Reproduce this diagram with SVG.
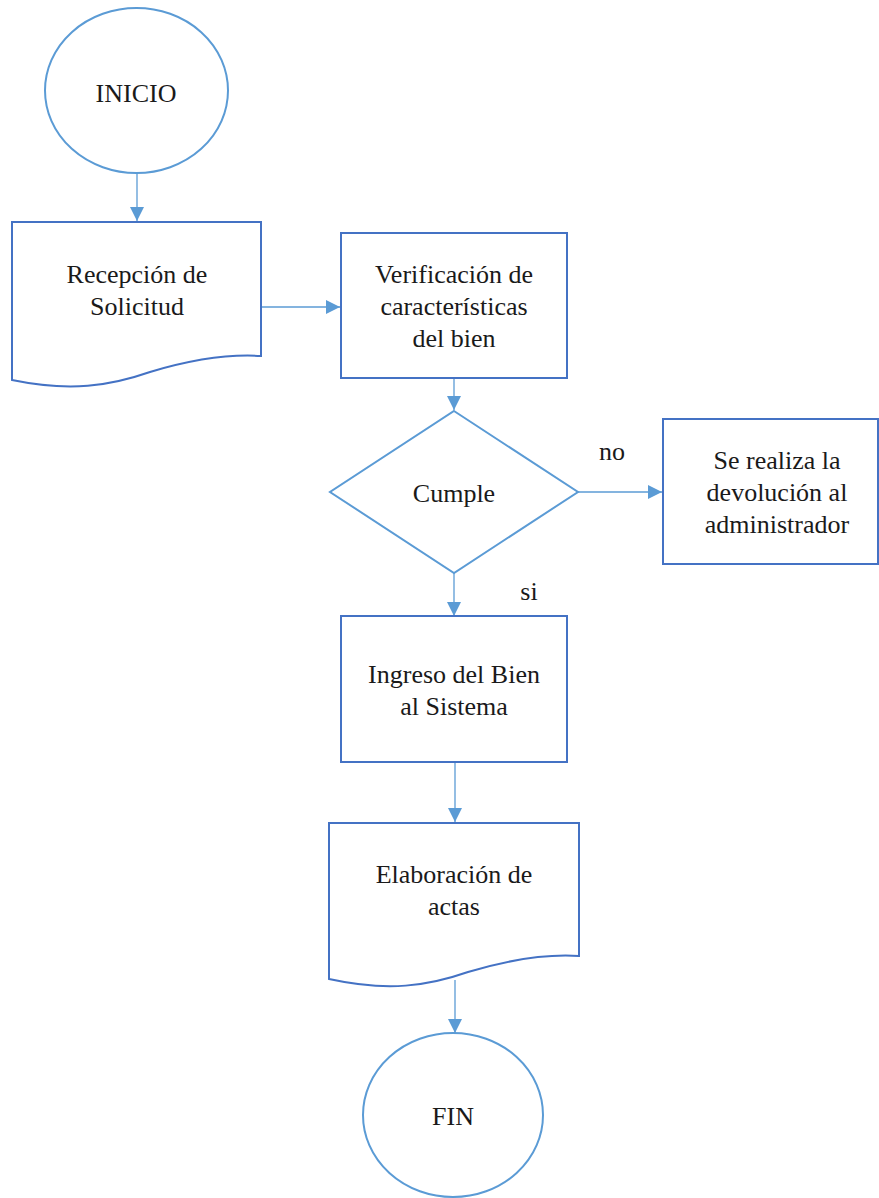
<svg xmlns="http://www.w3.org/2000/svg" width="879" height="1198" viewBox="0 0 879 1198">
<style>
.term{fill:#fff;stroke:#5B9BD5;stroke-width:2}
.box{fill:#fff;stroke:#4472C4;stroke-width:2}
.dec{fill:#fff;stroke:#5B9BD5;stroke-width:2}
.conn{fill:none;stroke:#5B9BD5;stroke-width:1.3}
.t{font-family:'Liberation Serif','Times New Roman',serif;font-size:26px;fill:#1a1a1a;text-anchor:middle}
</style>
<defs>
<marker id="ah" viewBox="0 0 10 10" refX="10" refY="5" markerWidth="14" markerHeight="14" markerUnits="userSpaceOnUse" orient="auto">
<path d="M0,0 L10,5 L0,10 Z" fill="#5B9BD5"/>
</marker>
</defs>
<rect width="879" height="1198" fill="#fff"/>
<g id="connectors">
<line class="conn" x1="137" y1="173" x2="137" y2="221" marker-end="url(#ah)"/>
<line class="conn" x1="261" y1="307" x2="340" y2="307" marker-end="url(#ah)"/>
<line class="conn" x1="454" y1="378" x2="454" y2="410" marker-end="url(#ah)"/>
<line class="conn" x1="578" y1="492" x2="662" y2="492" marker-end="url(#ah)"/>
<line class="conn" x1="454" y1="573" x2="454" y2="616" marker-end="url(#ah)"/>
<line class="conn" x1="455" y1="762" x2="455" y2="822" marker-end="url(#ah)"/>
<line class="conn" x1="455" y1="980" x2="455" y2="1033" marker-end="url(#ah)"/>
<text class="t" x="612" y="460">no</text>
<text class="t" x="529" y="600">si</text>
</g>
<g id="inicio">
<ellipse class="term" cx="136.5" cy="90.5" rx="91.5" ry="82.5"/>
<text class="t" x="136" y="102">INICIO</text>
</g>
<g id="recepcion">
<path class="box" d="M12,222 H261 V356 C230,354 190,360 150,372 C110,386 70,392 12,380 Z"/>
<text class="t" x="137" y="283">Recepción de</text>
<text class="t" x="137" y="315">Solicitud</text>
</g>
<g id="verificacion">
<rect class="box" x="341" y="233" width="226" height="145"/>
<text class="t" x="454" y="283">Verificación de</text>
<text class="t" x="454" y="315">características</text>
<text class="t" x="454" y="347">del bien</text>
</g>
<g id="cumple">
<polygon class="dec" points="454,411 578,492 454,573 330,492"/>
<text class="t" x="454" y="502">Cumple</text>
</g>
<g id="devolucion">
<rect class="box" x="663" y="419" width="215" height="145"/>
<text class="t" x="777" y="469">Se realiza la</text>
<text class="t" x="777" y="501">devolución al</text>
<text class="t" x="777" y="533">administrador</text>
</g>
<g id="ingreso">
<rect class="box" x="341" y="616" width="226" height="146"/>
<text class="t" x="454" y="683">Ingreso del Bien</text>
<text class="t" x="454" y="715">al Sistema</text>
</g>
<g id="elaboracion">
<path class="box" d="M329,823 H579 V956 C548,954 508,960 468,972 C428,986 388,992 329,979 Z"/>
<text class="t" x="454" y="883">Elaboración de</text>
<text class="t" x="454" y="915">actas</text>
</g>
<g id="fin">
<ellipse class="term" cx="453" cy="1125" rx="90" ry="82" transform="translate(0,-10)"/>
<text class="t" x="453" y="1125">FIN</text>
</g>
</svg>
